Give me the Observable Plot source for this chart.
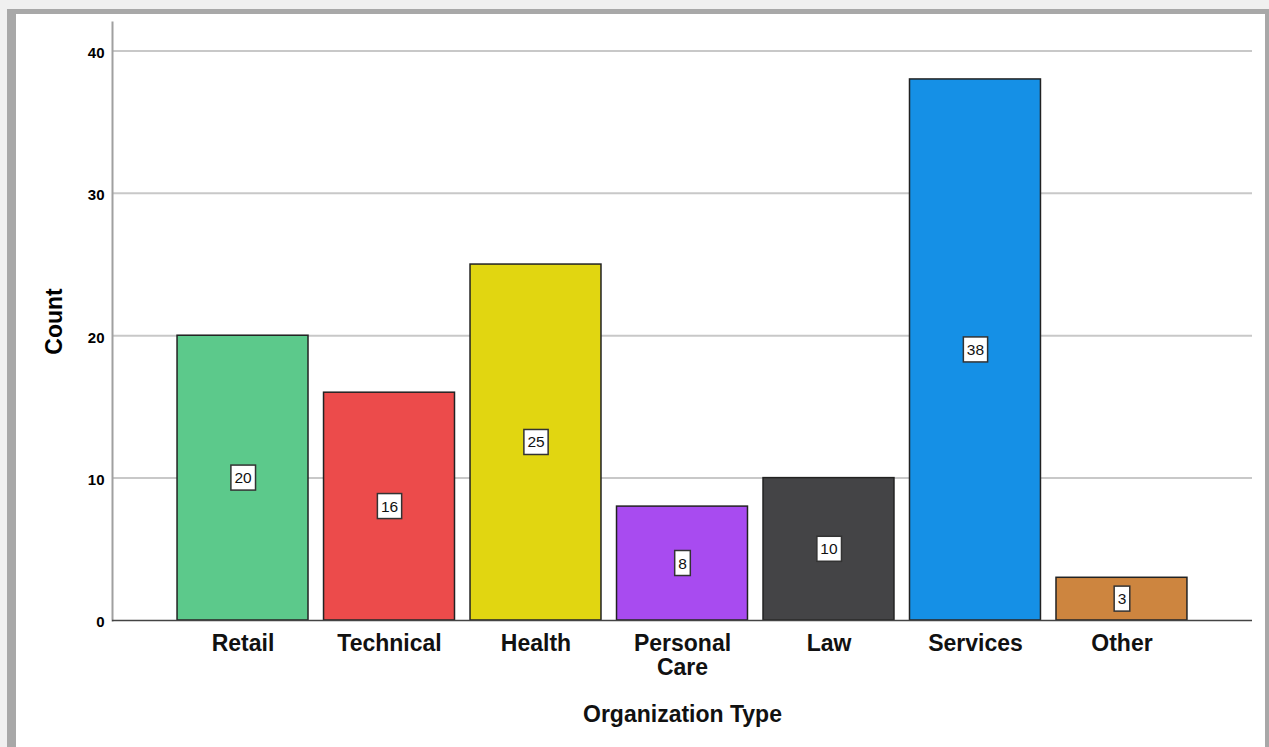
<!DOCTYPE html>
<html>
<head>
<meta charset="utf-8">
<script src="https://cdn.jsdelivr.net/npm/d3@7"></script>
<script src="https://cdn.jsdelivr.net/npm/@observablehq/plot@0.6"></script>
<style>
  html, body { margin: 0; padding: 0; background: #f0f0f0; width: 1269px; height: 747px; overflow: hidden; }
  #frame {
    position: absolute; left: 7px; top: 9px; width: 1249px; height: 738px;
    border-left: 9px solid #a8a8a8; border-top: 5px solid #a8a8a8; border-right: 4px solid #a8a8a8;
    background: #ffffff;
  }
  #frame svg { display: block; background: #ffffff; }
</style>
</head>
<body>
<div id="frame"></div>
<script>
const categories = ["Retail", "Technical", "Health", "Personal Care", "Law", "Services", "Other"];
const counts = [20, 16, 25, 8, 10, 38, 3];
const colors = ["#5cc98b", "#ec4b4b", "#e1d611", "#a84bf0", "#444446", "#1590e6", "#cd853f"];
const yTicks = [0, 10, 20, 30, 40];
const xTitle = "Organization Type";
const yTitle = "Count";

const data = categories.map((c, i) => ({type: c, count: counts[i]}));
const font = "'Liberation Sans', Arial, sans-serif";

const chart = Plot.plot({
  width: 1249,
  height: 733,
  marginLeft: 96,
  marginRight: 13,
  marginTop: 8,
  marginBottom: 127,
  style: {fontFamily: font, background: "#ffffff", color: "#000"},
  x: {domain: categories, paddingInner: 0.106, paddingOuter: 0.444, round: false, label: null},
  y: {domain: [0, 42], label: null},
  color: {domain: categories, range: colors},
  marks: [
    Plot.gridY(yTicks.filter(t => t > 0), {stroke: "#c8c8c8", strokeWidth: 2, strokeOpacity: 1}),
    Plot.frame({anchor: "left", stroke: "#a0a0a0", strokeWidth: 2}),
    Plot.axisY(yTicks, {tickSize: 0, tickPadding: 8, fontSize: 15, fontWeight: "bold", dy: 2, label: null, fill: "#000"}),
    Plot.axisX({tickSize: 0, tickPadding: 14, fontSize: 23, fontWeight: "bold", lineHeight: 1.04, label: null, fill: "#111",
      tickFormat: d => d.replace(" ", "\n")}),
    Plot.barY(data, {x: "type", y: "count", fill: "type", stroke: "#222", strokeWidth: 1.5}),
    Plot.ruleY([0], {stroke: "#444", strokeWidth: 1.5}),
    Plot.text([yTitle], {frameAnchor: "left", textAnchor: "middle", lineAnchor: "middle", rotate: -90, dx: -58, fontSize: 23, fontWeight: "bold", fill: "#000"}),
    Plot.text([xTitle], {frameAnchor: "bottom", dy: 101, fontSize: 23, fontWeight: "bold", fill: "#111"}),
    Plot.text(data, {x: "type", y: d => d.count / 2, text: d => String(d.count), fontSize: 15.5, fill: "#111"})
  ]
});

document.getElementById("frame").appendChild(chart);

// white boxes behind the value labels
const groups = chart.querySelectorAll(":scope > g");
const labelGroup = groups[groups.length - 1];
labelGroup.querySelectorAll("text").forEach(t => {
  const b = t.getBBox();
  const r = document.createElementNS("http://www.w3.org/2000/svg", "rect");
  const px = 3.5, py = 4;
  r.setAttribute("x", b.x - px);
  r.setAttribute("y", b.y - py);
  r.setAttribute("width", b.width + 2 * px);
  r.setAttribute("height", b.height + 2 * py);
  r.setAttribute("fill", "#ffffff");
  r.setAttribute("stroke", "#333");
  r.setAttribute("stroke-width", "1.5");
  const tr = t.getAttribute("transform");
  if (tr) r.setAttribute("transform", tr);
  t.parentNode.insertBefore(r, t);
});
</script>
</body>
</html>
